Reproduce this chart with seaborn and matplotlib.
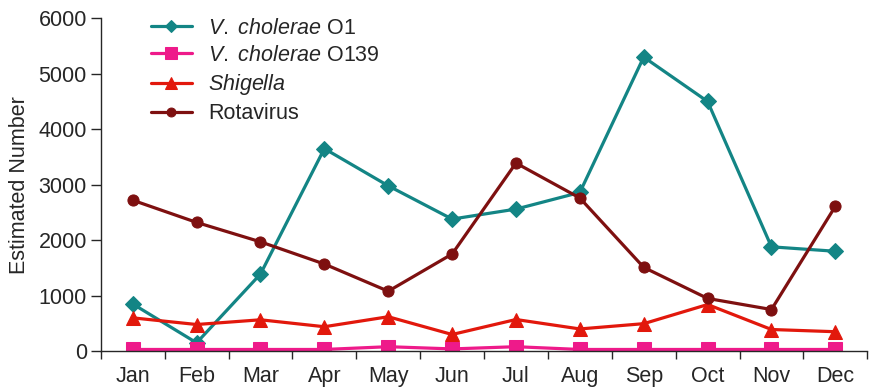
import matplotlib
matplotlib.use("Agg")
import matplotlib.pyplot as plt
import seaborn as sns
import pandas as pd
import numpy as np

months = ["Jan", "Feb", "Mar", "Apr", "May", "Jun", "Jul", "Aug", "Sep", "Oct", "Nov", "Dec"]
vc_o1 = [850, 150, 1390, 3650, 2980, 2380, 2560, 2860, 5300, 4500, 1880, 1800]
vc_o139 = [30, 30, 30, 30, 80, 40, 80, 30, 30, 30, 30, 30]
shigella = [600, 480, 565, 440, 620, 300, 570, 400, 495, 840, 390, 350]
rotavirus = [2720, 2320, 1970, 1570, 1080, 1750, 3390, 2760, 1510, 950, 750, 2610]

series_names = [r"$\mathit{V.}$ $\mathit{cholerae}$ O1", r"$\mathit{V.}$ $\mathit{cholerae}$ O139",
                r"$\mathit{Shigella}$", "Rotavirus"]
series_vals = [vc_o1, vc_o139, shigella, rotavirus]
colors = ["#138585", "#EE1A8A", "#E2180C", "#7E1010"]
markers = ["D", "s", "^", "o"]
msizes = [8, 10, 10, 8]

sns.set_style("ticks")
plt.rcParams["font.family"] = ["Liberation Sans", "DejaVu Sans"]
plt.rcParams["mathtext.fontset"] = "custom"
plt.rcParams["mathtext.it"] = "Liberation Sans:italic"
plt.rcParams["mathtext.rm"] = "Liberation Sans"

fig = plt.figure(figsize=(8.69, 3.88), dpi=100)
ax = fig.add_axes([0.116, 0.095, 0.882, 0.858])

x = np.arange(len(months))
for name, vals, c, m, ms in zip(series_names, series_vals, colors, markers, msizes):
    df = pd.DataFrame({"x": x, "y": vals})
    sns.lineplot(data=df, x="x", y="y", ax=ax, color=c, marker=m, markersize=ms,
                 markeredgecolor=c, linewidth=2.3, label=name)

ax.set_xlim(-0.5, 11.5)
ax.set_ylim(0, 6000)
ax.set_yticks([0, 1000, 2000, 3000, 4000, 5000, 6000])
ax.set_xticks(np.arange(-0.5, 12, 1))
ax.set_xticklabels([])
ax.set_xticks(x, minor=True)
ax.set_xticklabels(months, minor=True)
ax.tick_params(axis="x", which="minor", length=0, pad=11, labelsize=15.5)
ax.tick_params(axis="x", which="major", length=6, width=1, direction="out")
ax.tick_params(axis="y", length=7, width=1, direction="out", labelsize=15.5, pad=3)
ax.set_xlabel("")
ax.set_ylabel("Estimated Number", fontsize=15.5, labelpad=6)
for s in ["top", "right"]:
    ax.spines[s].set_visible(False)
ax.spines["left"].set_linewidth(1)
ax.spines["bottom"].set_linewidth(1)

leg = ax.legend(loc="upper left", bbox_to_anchor=(0.04, 1.06), frameon=False,
                fontsize=15.5, handlelength=1.9, labelspacing=0.29, handletextpad=0.75,
                markerscale=0.8)
fig.savefig("out.png", dpi=100)
